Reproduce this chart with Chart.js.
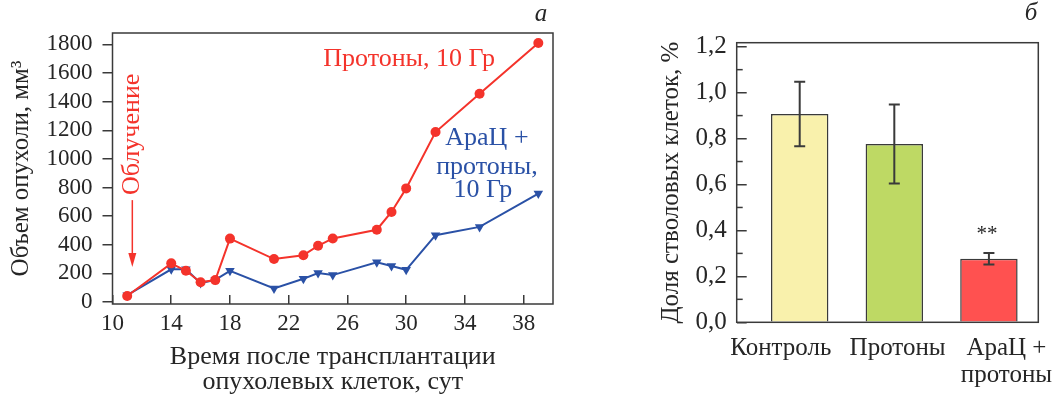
<!DOCTYPE html>
<html><head><meta charset="utf-8">
<script src="https://cdn.jsdelivr.net/npm/chart.js@4"></script>
<style>
html,body{margin:0;padding:0;background:#fff;}
#wrap{position:relative;width:1056px;height:396px;overflow:hidden;}
#c1{position:absolute;left:0;top:0;}
#c2{position:absolute;left:640px;top:0;}
</style></head><body>
<div id="wrap">
<canvas id="c1" width="560" height="396"></canvas>
<canvas id="c2" width="416" height="396"></canvas>
</div>
<script>
// ---- Panel a: tumour volume ----
const days = [11, 14, 15, 16, 17, 18, 21, 23, 24, 25, 28, 29, 30, 32, 35, 39];
const protonVolume = [42, 270, 218, 138, 153, 443, 300, 327, 393, 444, 505, 629, 794, 1188, 1456, 1810];
const araProtonVolume = [48, 228, 228, 132, 155, 218, 95, 162, 202, 188, 278, 251, 225, 467, 525, 758];
const xTickValues = [10, 14, 18, 22, 26, 30, 34, 38];
const yTickValues = [0, 200, 400, 600, 800, 1000, 1200, 1400, 1600, 1800];

// ---- Panel б: stem cell share ----
const groups = ['Контроль', 'Протоны', ['АраЦ +', 'протоны']];
const stemShare = [0.907, 0.776, 0.277];
const stemErr = [0.14, 0.172, 0.025];
const barTickValues = [0, 0.2, 0.4, 0.6, 0.8, 1.0, 1.2];
const barMinorTicks = [0.1, 0.3, 0.5, 0.7, 0.9, 1.1];

const FONT = '"Liberation Serif", "Times New Roman", serif';
const TXT = '#262626';
const RED = '#F4332B';
const BLUE = '#2A51A6';
const AXIS = '#3a3a3a';
// horizontal shift of category labels relative to their bars (axis units)
const LABEL_SHIFT = [-0.2, 0.035, 0.185];
Chart.defaults.font.family = FONT;
Chart.defaults.color = TXT;

const boxPlugin = {
  id: 'box',
  afterDraw(chart) {
    const {ctx, chartArea: a} = chart;
    ctx.save();
    ctx.strokeStyle = AXIS;
    ctx.lineWidth = 1.5;
    ctx.strokeRect(a.left, a.top, a.right - a.left, a.bottom - a.top);
    ctx.restore();
  }
};

const annotA = {
  id: 'annotA',
  afterDraw(chart) {
    const {ctx} = chart;
    const xs = chart.scales.x, ys = chart.scales.y;
    ctx.save();
    ctx.textAlign = 'center';
    ctx.textBaseline = 'middle';
    ctx.font = '26px ' + FONT;
    ctx.fillStyle = RED;
    ctx.fillText('Протоны, 10 Гр', xs.getPixelForValue(30.2), ys.getPixelForValue(1700));
    ctx.fillStyle = BLUE;
    const bx = xs.getPixelForValue(35.5);
    ctx.fillText('АраЦ +', bx, ys.getPixelForValue(1148));
    ctx.fillText('протоны,', bx, ys.getPixelForValue(944));
    ctx.fillText('10 Гр', bx - 4, ys.getPixelForValue(781));
    // Облучение, vertical, with arrow
    const ax = xs.getPixelForValue(11.35);
    ctx.save();
    ctx.translate(ax, ys.getPixelForValue(1172));
    ctx.rotate(-Math.PI / 2);
    ctx.fillStyle = RED;
    ctx.fillText('Облучение', 0, 0);
    ctx.restore();
    const y0 = ys.getPixelForValue(712), y1 = ys.getPixelForValue(244);
    ctx.strokeStyle = RED;
    ctx.fillStyle = RED;
    ctx.lineWidth = 1.5;
    ctx.beginPath();
    ctx.moveTo(ax, y0);
    ctx.lineTo(ax, y1 - 10);
    ctx.stroke();
    ctx.beginPath();
    ctx.moveTo(ax - 4, y1 - 14);
    ctx.lineTo(ax + 4, y1 - 14);
    ctx.lineTo(ax, y1);
    ctx.closePath();
    ctx.fill();
    // panel letter
    ctx.fillStyle = TXT;
    ctx.font = 'italic 25px ' + FONT;
    ctx.fillText('а', 541, 14);
    ctx.restore();
  }
};

new Chart(document.getElementById('c1'), {
  type: 'line',
  data: {
    datasets: [
      {
        data: days.map((d, i) => ({x: d, y: protonVolume[i]})),
        borderColor: RED, backgroundColor: RED, borderWidth: 2,
        pointStyle: 'circle', pointRadius: 5, pointBorderWidth: 0,
        tension: 0
      },
      {
        data: days.map((d, i) => ({x: d, y: araProtonVolume[i]})),
        borderColor: BLUE, backgroundColor: BLUE, borderWidth: 2,
        pointStyle: 'triangle', rotation: 180, pointRadius: 5.5, pointBorderWidth: 0,
        tension: 0
      }
    ]
  },
  options: {
    responsive: false, animation: false, devicePixelRatio: 1,
    layout: {padding: {left: 0, right: 7, top: 33, bottom: 0}},
    plugins: {legend: {display: false}, tooltip: {enabled: false}},
    scales: {
      x: {
        type: 'linear', min: 10, max: 40,
        afterBuildTicks: s => { s.ticks = xTickValues.map(v => ({value: v})); },
        afterFit: s => { s.height = 92; s.paddingLeft = 0; s.paddingRight = 0; },
        grid: {drawOnChartArea: false, tickLength: -9, color: AXIS, lineWidth: 1.5},
        border: {display: false},
        ticks: {padding: 15, autoSkip: false, maxRotation: 0, color: TXT, font: {size: 23},
                callback: v => String(v)},
        title: {display: true, text: ['Время после трансплантации', 'опухолевых клеток, сут'],
                color: TXT, font: {size: 26, lineHeight: 0.97}, padding: {top: 0, bottom: 1}}
      },
      y: {
        type: 'linear', min: -14, max: 1880,
        afterBuildTicks: s => { s.ticks = yTickValues.map(v => ({value: v})); },
        afterFit: s => { s.width = 112.5; s.paddingTop = 0; s.paddingBottom = 0; },
        grid: {drawOnChartArea: false, tickLength: 10, color: AXIS, lineWidth: 1.5},
        border: {display: false},
        ticks: {padding: 10, autoSkip: false, color: TXT, font: {size: 23}, callback: v => String(v)},
        title: {display: true, text: 'Объем опухоли, мм³', color: TXT,
                font: {size: 25}, padding: {top: 6, bottom: 0}}
      }
    }
  },
  plugins: [boxPlugin, annotA]
});

const annotB = {
  id: 'annotB',
  afterDatasetsDraw(chart) {
    const {ctx} = chart;
    const ys = chart.scales.y;
    const meta = chart.getDatasetMeta(0);
    ctx.save();
    ctx.strokeStyle = AXIS;
    ctx.lineWidth = 2;
    meta.data.forEach((bar, i) => {
      const x = bar.x;
      const yt = ys.getPixelForValue(stemShare[i] + stemErr[i]);
      const yb = ys.getPixelForValue(stemShare[i] - stemErr[i]);
      ctx.beginPath();
      ctx.moveTo(x, yt); ctx.lineTo(x, yb);
      ctx.moveTo(x - 5.5, yt); ctx.lineTo(x + 5.5, yt);
      ctx.moveTo(x - 5.5, yb); ctx.lineTo(x + 5.5, yb);
      ctx.stroke();
    });
    // significance mark
    const b3 = meta.data[2];
    ctx.fillStyle = TXT;
    ctx.textAlign = 'center';
    ctx.textBaseline = 'alphabetic';
    ctx.font = '21px ' + FONT;
    ctx.fillText('**', b3.x - 2, ys.getPixelForValue(stemShare[2] + stemErr[2]) - 13);
    // minor ticks
    ctx.lineWidth = 1.5;
    const left = chart.chartArea.left;
    barMinorTicks.forEach(v => {
      const y = ys.getPixelForValue(v);
      ctx.beginPath();
      ctx.moveTo(left, y); ctx.lineTo(left + 6, y);
      ctx.stroke();
    });
    // panel letter
    ctx.font = 'italic 25px ' + FONT;
    ctx.fillText('б', 391, 20);
    ctx.restore();
  }
};

new Chart(document.getElementById('c2'), {
  type: 'bar',
  data: {
    datasets: [{
      data: stemShare.map((v, i) => ({x: i + 1, y: v})),
      backgroundColor: ['#F9F1AC', '#BED964', '#FF5150'],
      borderColor: AXIS, borderWidth: 1.5,
      categoryPercentage: 1.0, barPercentage: 0.607
    }]
  },
  options: {
    responsive: false, animation: false, devicePixelRatio: 1,
    layout: {padding: {left: 0, right: 17.7, top: 42.7, bottom: 0}},
    plugins: {legend: {display: false}, tooltip: {enabled: false}},
    scales: {
      x: {
        type: 'linear', min: 0.334, max: 3.522, offset: false,
        afterBuildTicks: s => { s.ticks = groups.map((g, i) => ({value: i + 1 + LABEL_SHIFT[i]})); },
        afterFit: s => { s.height = 73.7; s.paddingLeft = 0; s.paddingRight = 0; },
        grid: {display: false, drawTicks: false},
        border: {display: false},
        ticks: {padding: 12, autoSkip: false, maxRotation: 0, color: TXT,
                font: {size: 25, lineHeight: 1.1},
                callback: v => groups[Math.round(v) - 1]}
      },
      y: {
        type: 'linear', min: 0, max: 1.2174,
        afterBuildTicks: s => { s.ticks = barTickValues.map(v => ({value: v})); },
        afterFit: s => { s.width = 96.7; s.paddingTop = 0; s.paddingBottom = 0; },
        grid: {drawOnChartArea: false, tickLength: -10, color: AXIS, lineWidth: 1.5},
        border: {display: false},
        ticks: {padding: 20, autoSkip: false, color: TXT, font: {size: 25},
                callback: v => Number(v).toFixed(1).replace('.', ',')},
        title: {display: true, text: 'Доля стволовых клеток, %', color: TXT,
                font: {size: 25}, padding: {top: 16.5, bottom: 0}}
      }
    }
  },
  plugins: [boxPlugin, annotB]
});
</script>
</body></html>
